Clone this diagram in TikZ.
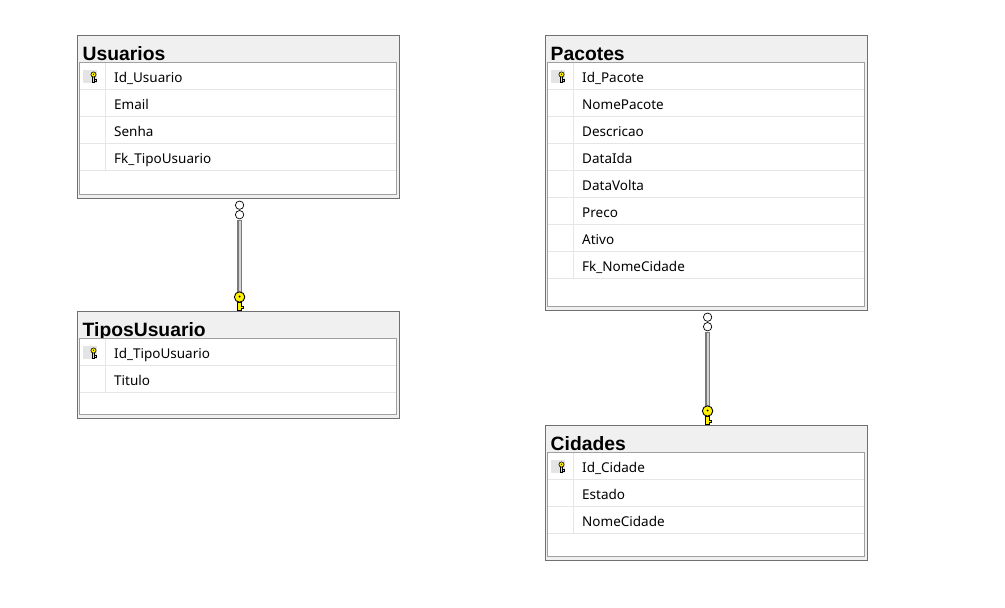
\documentclass[tikz,border=0pt]{standalone}
\usepackage{fontspec}
\setmainfont{Noto Sans}
\newfontfamily\titlefont{Liberation Sans}
\usetikzlibrary{calc}

\definecolor{hdrfill}{HTML}{F0F0F0}
\definecolor{outerline}{HTML}{707070}
\definecolor{innerline}{HTML}{A0A0A0}
\definecolor{sepline}{HTML}{E6E6E6}
\definecolor{keybg}{HTML}{E4E4E4}
\definecolor{keyyellow}{HTML}{FFF200}
\definecolor{reldark}{HTML}{7A7A7A}
\definecolor{rellight}{HTML}{D4D4D4}

\tikzset{
  x=1pt, y=-1pt,
  tablebox/.style={rectangle, draw=outerline, fill=hdrfill, line width=1.2pt, inner sep=0pt},
  innerbox/.style={draw=innerline, fill=white, line width=1pt},
  rowsep/.style={draw=sepline, line width=0.8pt},
  tabletitle/.style={font=\titlefont\bfseries\fontsize{19.3}{20}\selectfont, anchor=base west, inner sep=0pt},
  field/.style={font=\fontsize{13.5}{14}\selectfont, anchor=base west, inner sep=0pt},
  keyline/.style={draw=black, fill=keyyellow, line width=0.6pt},
  optcircle/.style={draw=black, fill=white, line width=0.7pt},
}

% small primary-key glyph on its grey tile
\newcommand{\pkglyph}[2]{%
  \fill[keybg] (#1-10.5,#2-4.5) rectangle (#1+3,#2+8.5);
  \draw[keyline] (#1-1,#2+2) rectangle (#1+1,#2+8);
  \draw[keyline] (#1+1,#2+5) -- (#1+2.5,#2+5) -- (#1+2.5,#2+6.5) -- (#1+1,#2+6.5);
  \draw[keyline] (#1,#2) circle (2.6pt);
  \fill[black] (#1,#2-0.3) circle (0.6pt);
}

% one table: name, left x, top y, title, bottom y, list of fields
\newcommand{\dbtable}[6]{%
  \pgfmathsetmacro\tx{#2}%
  \pgfmathsetmacro\ty{#3}%
  \pgfmathsetmacro\tb{#5}%
  \pgfmathsetmacro\th{#5-#3}%
  \node[tablebox, anchor=north west, minimum width=322pt, minimum height=\th pt] (#1) at (\tx,\ty) {};
  \node[tabletitle] (#1-title) at (\tx+5.5,\ty+25.5) {#4};
  \path[innerbox] (\tx+2.5,\ty+27.5) rectangle (\tx+319.5,\tb-3.5);
  \foreach \f [count=\i from 0] in {#6} {%
    \pgfmathsetmacro\rt{\ty+27.5+27*\i}%
    \draw[rowsep] (\tx+3,\rt+27) -- (\tx+319,\rt+27);
    \node[field] (#1-f\i) at (\tx+37,\rt+20) {\f};
    \xdef\nrows{\i}%
  }
  \pgfmathsetmacro\rb{\ty+27.5+27*(\nrows+1)}%
  \draw[rowsep] (\tx+28,\ty+28) -- (\tx+28,\rb);
  \pkglyph{\tx+16.5}{\ty+39.5}
}

% one-to-one link: parent node, child node, link name
\newcommand{\relation}[3]{%
  \coordinate (#3-top) at ($(#1.south)+(1,0)$);
  \coordinate (#3-bot) at ($(#2.north)+(1,0)$);
  \draw[reldark, line width=4.6pt] ($(#3-top)+(0,21)$) -- ($(#3-bot)+(0,-16)$);
  \draw[rellight, line width=2.2pt] ($(#3-top)+(0,21.5)$) -- ($(#3-bot)+(0,-16)$);
  \draw[optcircle] ($(#3-top)+(0,6)$) circle (4.2pt);
  \draw[optcircle] ($(#3-top)+(0,15.5)$) circle (4.2pt);
  \draw[keyline, line width=0.9pt] ($(#3-bot)+(-1.8,-9)$) rectangle ($(#3-bot)+(1.8,-0.5)$);
  \draw[keyline, line width=0.9pt] ($(#3-bot)+(1.8,-5)$) -- ($(#3-bot)+(3.8,-5)$) -- ($(#3-bot)+(3.8,-3)$) -- ($(#3-bot)+(1.8,-3)$);
  \draw[keyline, line width=0.9pt] ($(#3-bot)+(0,-14)$) circle (5.2pt);
  \fill[black] ($(#3-bot)+(0,-14.5)$) circle (1.1pt);
}

\begin{document}
\begin{tikzpicture}
  \useasboundingbox (0,0) rectangle (1005,608);
  \fill[white] (0,0) rectangle (1005,608);

  \dbtable{usuarios}{77}{35}{Usuarios}{198}{Id\_Usuario,Email,Senha,Fk\_TipoUsuario}
  \dbtable{tipos}{77}{311}{TiposUsuario}{418}{Id\_TipoUsuario,Titulo}
  \dbtable{pacotes}{545}{35}{Pacotes}{310}{Id\_Pacote,NomePacote,Descricao,DataIda,DataVolta,Preco,Ativo,Fk\_NomeCidade}
  \dbtable{cidades}{545}{425}{Cidades}{560}{Id\_Cidade,Estado,NomeCidade}

  \relation{usuarios}{tipos}{reltipo}
  \relation{pacotes}{cidades}{relcidade}
\end{tikzpicture}
\end{document}
